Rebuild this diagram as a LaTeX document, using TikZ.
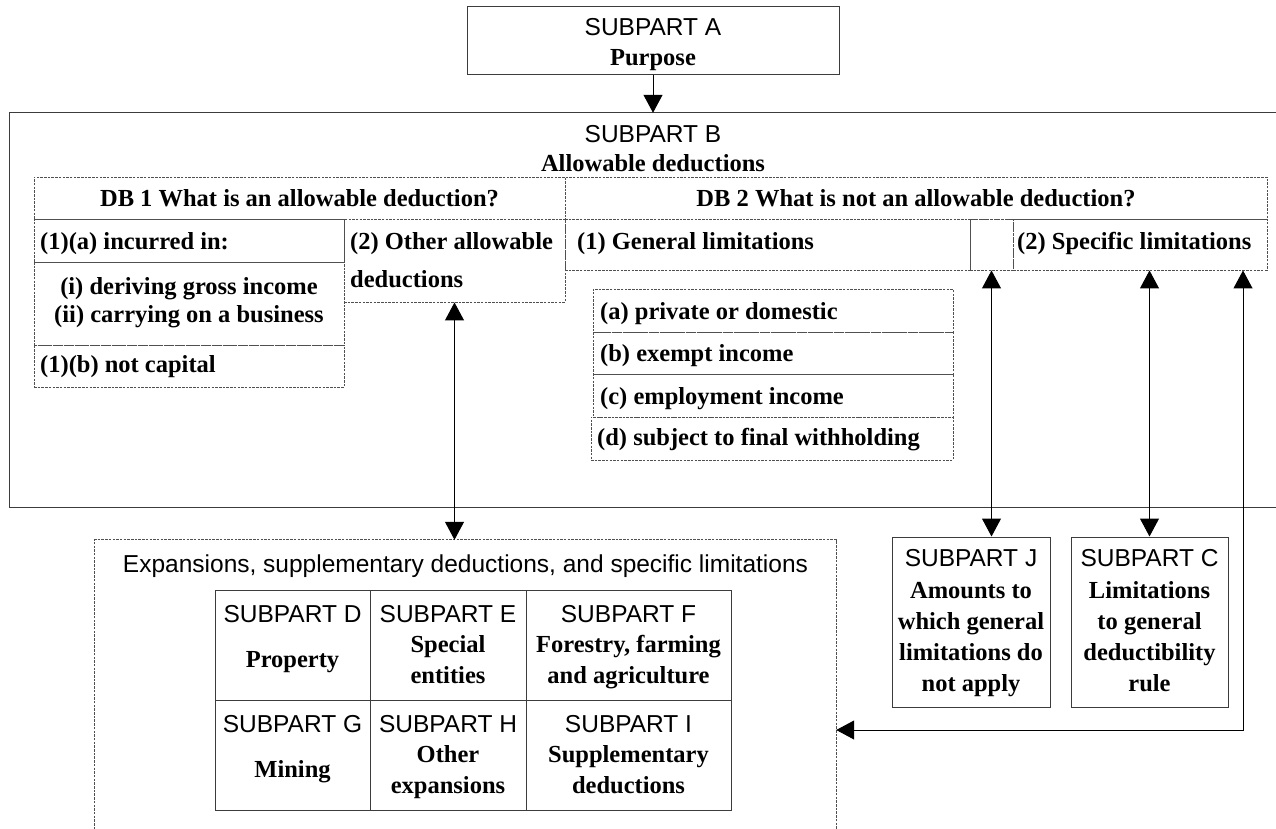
\documentclass[tikz,border=0pt]{standalone}
\usepackage{fontspec}
\setmainfont{Liberation Serif}
\newfontfamily\arialfont{Liberation Sans}
\usetikzlibrary{arrows.meta}

\definecolor{edgegray}{HTML}{3C3C3C}
\definecolor{dashgray}{HTML}{505050}

\tikzset{
  solidbox/.style={draw=edgegray, line width=1pt, inner sep=0pt},
  dashbox/.style={draw=dashgray, line width=0.9pt, dash pattern=on 2.5pt off 1.2pt, inner sep=0pt},
  framebox/.style={inner sep=0pt},
  sanslbl/.style={font=\arialfont\fontsize{24.5}{28}\selectfont, anchor=base, inner sep=0pt},
  boldlbl/.style={font=\bfseries\fontsize{24.5}{28}\selectfont, anchor=base, inner sep=0pt},
  boldleft/.style={boldlbl, anchor=base west},
  link/.style={draw=black, line width=1pt},
}

% rectangle node given by its corners (x1,y1) and (x2,y2), y measured downwards
\newcommand\rectnode[6]{%
  \node[#1, minimum width={#5-#3}, minimum height={#6-#4}] (#2) at ({(#3+#5)/2},{(#4+#6)/2}) {};}

\begin{document}
\begin{tikzpicture}[x=1pt, y=-1pt, >={Triangle[length=18pt,width=19pt]}]
\useasboundingbox (0,0) rectangle (1276,829);
\fill[white] (0,0) rectangle (1276,829);

% ---------- Subpart A ----------
\rectnode{solidbox}{subA}{467}{7}{839}{75}
\node[sanslbl] (subAt) at (653,36) {SUBPART A};
\node[boldlbl] (subAb) at (653,66) {Purpose};

% ---------- Subpart B frame (open to the right) ----------
\node[framebox, minimum width=1266, minimum height=394] (subB) at (643,310) {};
\draw[draw=edgegray, line width=1pt] (subB.north east) -- (subB.north west) -- (subB.south west) -- (subB.south east);
\node[sanslbl] (subBt) at (653,143) {SUBPART B};
\node[boldlbl] (subBb) at (653,172) {Allowable deductions};

\draw[link,->] (subA.south) -- (subA.south |- subB.north);

% ---------- DB 1 ----------
\rectnode{dashbox}{db1}{34}{177}{565}{219}
\node[boldlbl] (db1t) at (299.5,206) {DB 1 What is an allowable deduction?};

\rectnode{dashbox}{incurred}{34}{219}{344}{262}
\node[boldleft] (incurredt) at (40,249) {(1)(a) incurred in:};
\rectnode{dashbox}{means}{34}{262}{344}{345}
\node[boldlbl] (meansi) at (189,294) {(i) deriving gross income};
\node[boldlbl] (meansii) at (189,322) {(ii) carrying on a business};
\rectnode{dashbox}{notcap}{34}{345}{344}{387}
\node[boldleft] (notcapt) at (40,372) {(1)(b) not capital};

\rectnode{dashbox}{other}{344}{219}{565}{302}
\node[boldleft] (othera) at (350,249) {(2) Other allowable};
\node[boldleft] (otherb) at (350,287) {deductions};

% ---------- DB 2 ----------
\rectnode{dashbox}{db2}{565}{177}{1267}{219}
\node[boldlbl] (db2t) at (916,206) {DB 2 What is not an allowable deduction?};

\rectnode{dashbox}{general}{565}{219}{970}{270}
\node[boldleft] (generalt) at (577,249) {(1) General limitations};
\rectnode{dashbox}{gap}{970}{219}{1013}{270}
\rectnode{dashbox}{specific}{1013}{219}{1267}{270}
\node[boldleft] (specifict) at (1017,249) {(2) Specific limitations};

\rectnode{dashbox}{pa}{593}{289}{953}{332}
\node[boldleft] (pat) at (600,319) {(a) private or domestic};
\rectnode{dashbox}{pb}{593}{332}{953}{374}
\node[boldleft] (pbt) at (600,361) {(b) exempt income};
\rectnode{dashbox}{pc}{593}{374}{953}{417}
\node[boldleft] (pct) at (600,404) {(c) employment income};
\rectnode{dashbox}{pd}{591}{417}{953}{460}
\node[boldleft] (pdt) at (597,445) {(d) subject to final withholding};

% ---------- Expansions frame (open at the bottom) ----------
\node[framebox, minimum width=741, minimum height=289] (exp) at (465.5,684.5) {};
\draw[dashbox] (exp.south west) -- (exp.north west) -- (exp.north east) -- (exp.south east);
\node[sanslbl] (expt) at (465.5,572) {Expansions, supplementary deductions, and specific limitations};

% subparts D to I
\rectnode{solidbox}{sd}{215}{590}{370}{700}
\rectnode{solidbox}{se}{370}{590}{526}{700}
\rectnode{solidbox}{sf}{526}{590}{731}{700}
\rectnode{solidbox}{sg}{215}{700}{370}{810}
\rectnode{solidbox}{sh}{370}{700}{526}{810}
\rectnode{solidbox}{si}{526}{700}{731}{810}

\node[sanslbl] (sdt) at (292.5,622) {SUBPART D};
\node[boldlbl] (sdb) at (292.5,667) {Property};
\node[sanslbl] (set) at (448,622) {SUBPART E};
\node[boldlbl] (seb1) at (448,652) {Special};
\node[boldlbl] (seb2) at (448,683) {entities};
\node[sanslbl] (sft) at (628.5,622) {SUBPART F};
\node[boldlbl] (sfb1) at (628.5,652) {Forestry, farming};
\node[boldlbl] (sfb2) at (628.5,683) {and agriculture};

\node[sanslbl] (sgt) at (292.5,732) {SUBPART G};
\node[boldlbl] (sgb) at (292.5,777) {Mining};
\node[sanslbl] (sht) at (448,732) {SUBPART H};
\node[boldlbl] (shb1) at (448,762) {Other};
\node[boldlbl] (shb2) at (448,793) {expansions};
\node[sanslbl] (sit) at (628.5,732) {SUBPART I};
\node[boldlbl] (sib1) at (628.5,762) {Supplementary};
\node[boldlbl] (sib2) at (628.5,793) {deductions};

% ---------- Subparts J and C ----------
\rectnode{solidbox}{sj}{892}{537}{1050}{707}
\node[sanslbl] (sjt) at (971,566) {SUBPART J};
\node[boldlbl] (sj1) at (971,598) {Amounts to};
\node[boldlbl] (sj2) at (971,629) {which general};
\node[boldlbl] (sj3) at (971,660) {limitations do};
\node[boldlbl] (sj4) at (971,691) {not apply};

\rectnode{solidbox}{sc}{1071}{537}{1228}{707}
\node[sanslbl] (sct) at (1149.5,566) {SUBPART C};
\node[boldlbl] (sc1) at (1149.5,598) {Limitations};
\node[boldlbl] (sc2) at (1149.5,629) {to general};
\node[boldlbl] (sc3) at (1149.5,660) {deductibility};
\node[boldlbl] (sc4) at (1149.5,691) {rule};

% ---------- Connectors ----------
\draw[link,<->] (other.south) -- (other.south |- exp.north);
\draw[link,<->] (gap.south) -- (gap.south |- sj.north);
\draw[link,<->] (sc.north |- specific.south) -- (sc.north);
\coordinate (bend) at (1243,730);
\draw[link,<->] (bend |- specific.south) -- (bend) -- (bend -| exp.east);

\end{tikzpicture}
\end{document}
